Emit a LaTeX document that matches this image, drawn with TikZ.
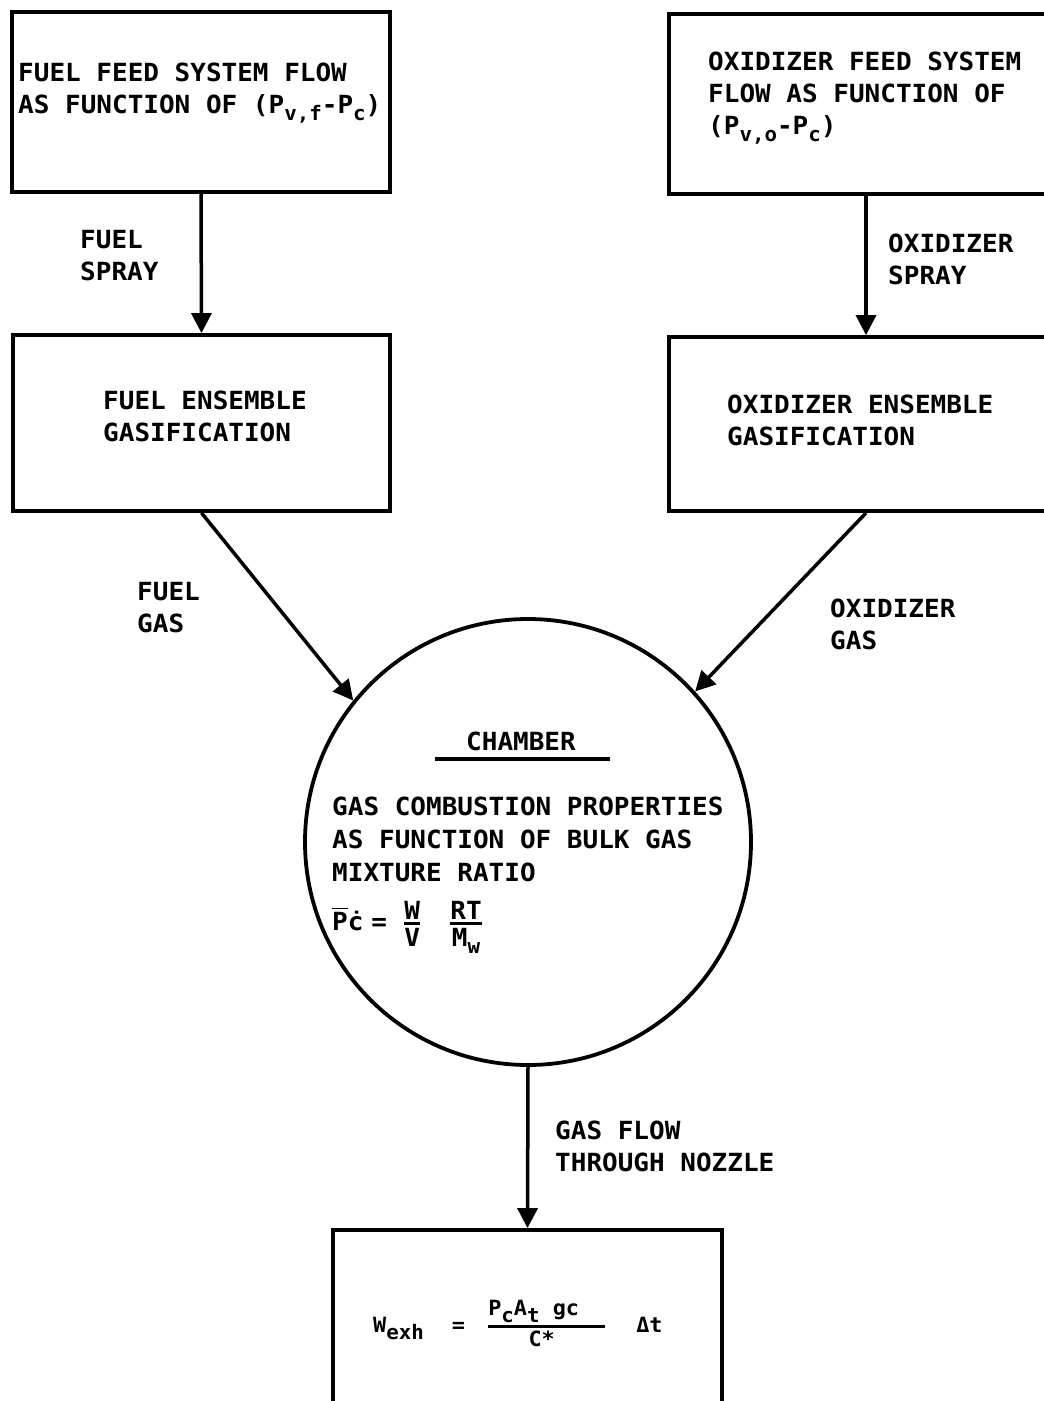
\documentclass[tikz,border=0pt]{standalone}
\usepackage{amsmath}
\usepackage{fontspec}
\setmainfont{DejaVu Sans Mono}[FakeStretch=1.04]
\usetikzlibrary{arrows.meta}
% lowered index in the hand-lettered style
\newcommand\lowsub[1]{\raisebox{-7pt}{\fontsize{20}{20}\selectfont #1}}
% fraction with a heavy bar
\newcommand\heavyfrac[2]{\genfrac{}{}{3pt}{1}{\mbox{#1}}{\mbox{#2}}}
\begin{document}
\begin{tikzpicture}[x=1pt,y=-1pt,
  every node/.style={font=\fontsize{25}{32}\selectfont\bfseries, inner sep=0pt},
  block/.style={draw, line width=3.8pt, rectangle},
  txt/.style={anchor=north west, align=left},
  flow/.style={line width=3.5pt, -{Triangle[length=20pt,width=20pt]}}
]
\useasboundingbox (0,0) rectangle (1044,1401);
\fill[white] (0,0) rectangle (1044,1401);

% blocks
\node[block, minimum width=378pt, minimum height=180pt] (fuelfeed) at (201,102) {};
\node[block, minimum width=394pt, minimum height=180pt] (oxfeed) at (866,104) {};
\node[block, minimum width=377pt, minimum height=176pt] (fuelgas) at (201.5,423) {};
\node[block, minimum width=394pt, minimum height=174pt] (oxgas) at (866,424) {};
\node[draw, circle, line width=3.8pt, minimum size=446pt] (chamber) at (528,842) {};
\node[block, minimum width=389pt, minimum height=190pt] (exhaust) at (527.5,1325) {};

% block texts
\node[txt] (fuelfeedtxt) at (18,63) {FUEL FEED SYSTEM FLOW\\AS FUNCTION OF (P\lowsub{v,f}-P\lowsub{c})};
\node[txt] (oxfeedtxt) at (708,52) {OXIDIZER FEED SYSTEM\\FLOW AS FUNCTION OF\\(P\lowsub{v,o}-P\lowsub{c})};
\node[txt] (fuelgastxt) at (103,391) {FUEL ENSEMBLE\\GASIFICATION};
\node[txt] (oxgastxt) at (727,395) {OXIDIZER ENSEMBLE\\GASIFICATION};

% chamber contents
\node (chambertitle) at (521,741) {CHAMBER};
\draw[line width=3.5pt] (435,759) -- (610,759);
\node[txt, font=\fontsize{25}{33}\selectfont\bfseries] (chambertxt) at (332,797)
  {GAS COMBUSTION PROPERTIES\\AS FUNCTION OF BULK GAS\\MIXTURE RATIO};
\node[anchor=base west] (chambereq) at (332,930)
  {$\overline{\mbox{P}}\mbox{\.c}\hspace{8pt}\mbox{=}\hspace{16pt}\heavyfrac{W}{V}\hspace{28pt}\heavyfrac{RT}{M\lowsub{w}}$};

% exhaust formula
\node[anchor=base west, font=\fontsize{21}{26}\selectfont\bfseries] (exheq) at (373,1332)
  {$\mbox{W\lowsub{exh}}\hspace{28pt}\mbox{=}\hspace{22pt}\heavyfrac{P\lowsub{c}A\lowsub{t} gc\hspace{26pt}}{C*\hspace{10pt}}\hspace{30pt}\mbox{Δt}$};

% connector labels
\node[txt] (fuelspray) at (80,230) {FUEL\\SPRAY};
\node[txt] (oxspray) at (888,234) {OXIDIZER\\SPRAY};
\node[txt] (fuelgaslbl) at (137,582) {FUEL\\GAS};
\node[txt] (oxgaslbl) at (830,599) {OXIDIZER\\GAS};
\node[txt] (nozzlelbl) at (555,1121) {GAS FLOW\\THROUGH NOZZLE};

% connectors
\draw[flow] (fuelfeed.south) -- (fuelgas.north);
\draw[flow] (oxfeed.south) -- (oxgas.north);
\draw[flow] (fuelgas.south) -- (chamber.141);
\draw[flow] (oxgas.south) -- (chamber.42);
\draw[flow] (chamber.south) -- (exhaust.north);
\end{tikzpicture}
\end{document}
